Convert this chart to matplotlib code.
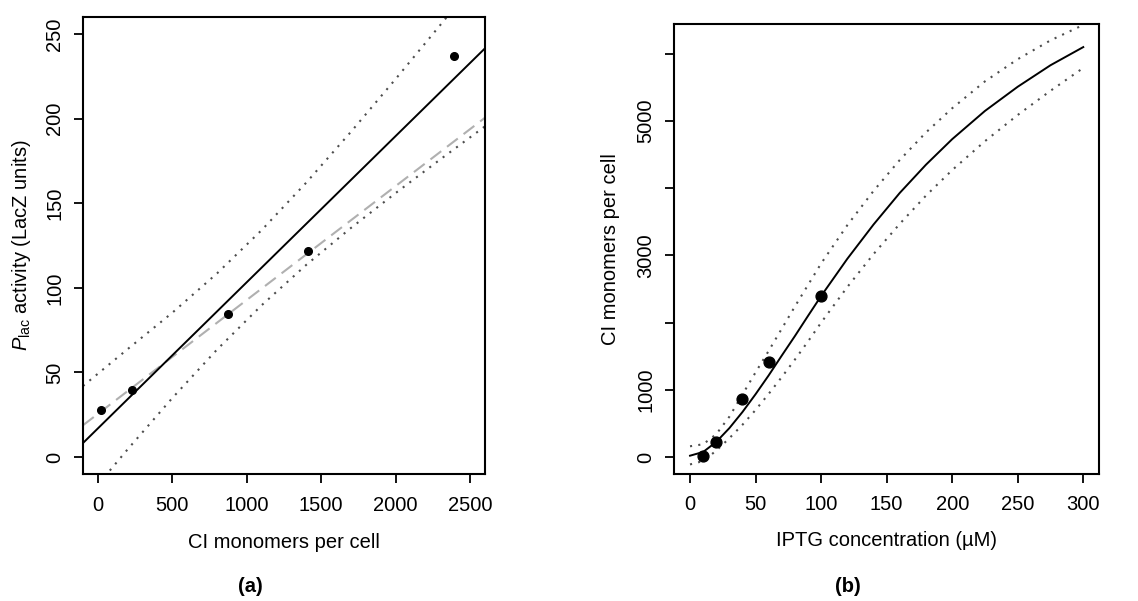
import numpy as np
import matplotlib.pyplot as plt

plt.rcParams['font.family'] = ['Liberation Sans', 'DejaVu Sans']
plt.rcParams['mathtext.fontset'] = 'custom'
plt.rcParams['mathtext.rm'] = 'Liberation Sans'
plt.rcParams['mathtext.it'] = 'Liberation Sans:italic'

# (a) Plac activity vs CI monomers
ci_pts = [18, 230, 873, 1412, 2395]
lac_pts = [27.6, 39.5, 84.4, 121.5, 236.7]
line_a_x = [-100, 2600]
fit_a_y = [8.3, 241.5]
alt_a_y = [18.8, 200.5]
band_a_x = [-100, 200, 500, 800, 1100, 1400, 1700, 2000, 2300, 2600]
band_a_up = [42.0, 63.8, 85.3, 108.5, 134.1, 162.2, 192.2, 223.4, 255.3, 287.6]
band_a_lo = [-26.8, 4.6, 34.9, 63.5, 89.7, 113.6, 135.4, 156.0, 175.9, 195.4]

# (b) CI monomers vs IPTG
iptg_pts = [10, 20, 40, 60, 100]
ci_b_pts = [20, 223, 870, 1410, 2396]
curve_x = [0, 10, 20, 30, 40, 50, 60, 70, 80, 90, 100, 120, 140, 160, 180, 200, 225, 250, 275, 300]
curve_fit = [20, 75, 225, 430, 670, 935, 1215, 1510, 1800, 2100, 2396, 2950, 3460, 3930, 4350,
             4730, 5150, 5510, 5830, 6100]
curve_up = [160, 190, 340, 600, 930, 1260, 1580, 1910, 2240, 2560, 2880, 3450, 3960, 4420, 4830,
            5190, 5590, 5920, 6200, 6430]
curve_lo = [-110, -60, 95, 280, 480, 700, 940, 1190, 1450, 1720, 2000, 2530, 3020, 3470, 3890,
            4270, 4700, 5090, 5450, 5790]

W, H = 1138, 601
fs = 14.5
dot = (0, (1.0, 3.0))
dotcol = '#4d4d4d'

fig = plt.figure(figsize=(W / 100, H / 100), dpi=100)
ax1 = fig.add_axes([83 / W, 1 - 474 / H, 402 / W, 457 / H])
ax2 = fig.add_axes([674.3 / W, 1 - 473.7 / H, 424.7 / W, 450 / H])


def style(ax):
    for s in ax.spines.values():
        s.set_linewidth(1.5)
    ax.tick_params(axis='both', length=6.5, width=1.3, labelsize=fs)
    ax.tick_params(axis='x', pad=9)
    ax.tick_params(axis='y', pad=7)
    for lab in ax.get_yticklabels():
        lab.set_rotation(90)
        lab.set_va('center')


# panel a
ax1.plot(band_a_x, band_a_up, color=dotcol, lw=1.5, ls=dot)
ax1.plot(band_a_x, band_a_lo, color=dotcol, lw=1.5, ls=dot)
ax1.plot(line_a_x, alt_a_y, color='#b0b0b0', lw=1.5, ls=(0, (6.5, 3.5)))
ax1.plot(line_a_x, fit_a_y, color='black', lw=1.4)
ax1.plot(ci_pts, lac_pts, 'o', color='black', ms=5.5)
ax1.set_xlim(-100, 2600)
ax1.set_ylim(-10, 260)
ax1.set_xticks([0, 500, 1000, 1500, 2000, 2500])
ax1.set_yticks([0, 50, 100, 150, 200, 250])
style(ax1)
ax1.set_xlabel('CI monomers per cell', fontsize=fs, va='center')
ax1.xaxis.set_label_coords(0.5, (474 - 542.7) / 457)
ax1.set_ylabel(r'$P_{\mathrm{lac}}$ activity (LacZ units)', fontsize=fs, va='center')
ax1.yaxis.set_label_coords((22 - 83) / 402, 0.5)

# panel b
ax2.plot(curve_x, curve_up, color=dotcol, lw=1.5, ls=dot)
ax2.plot(curve_x, curve_lo, color=dotcol, lw=1.5, ls=dot)
ax2.plot(curve_x, curve_fit, color='black', lw=1.4)
ax2.plot(iptg_pts, ci_b_pts, 'o', color='black', ms=7.8)
ax2.set_xlim(-12, 312)
ax2.set_ylim(-248, 6448)
ax2.set_xticks([0, 50, 100, 150, 200, 250, 300])
ax2.set_yticks([0, 1000, 2000, 3000, 4000, 5000, 6000])
ax2.set_yticklabels(['0', '1000', '', '3000', '', '5000', ''])
style(ax2)
ax2.set_xlabel('IPTG concentration (µM)', fontsize=fs, va='center')
ax2.xaxis.set_label_coords(0.5, (473.7 - 540) / 450)
ax2.set_ylabel('CI monomers per cell', fontsize=fs, va='center')
ax2.yaxis.set_label_coords((610 - 674.3) / 424.7, 0.5)

fig.text(250 / W, 1 - 586.7 / H, '(a)', fontsize=fs, fontweight='bold', ha='center', va='center')
fig.text(848 / W, 1 - 586.7 / H, '(b)', fontsize=fs, fontweight='bold', ha='center', va='center')

fig.savefig('out.png', dpi=100)
